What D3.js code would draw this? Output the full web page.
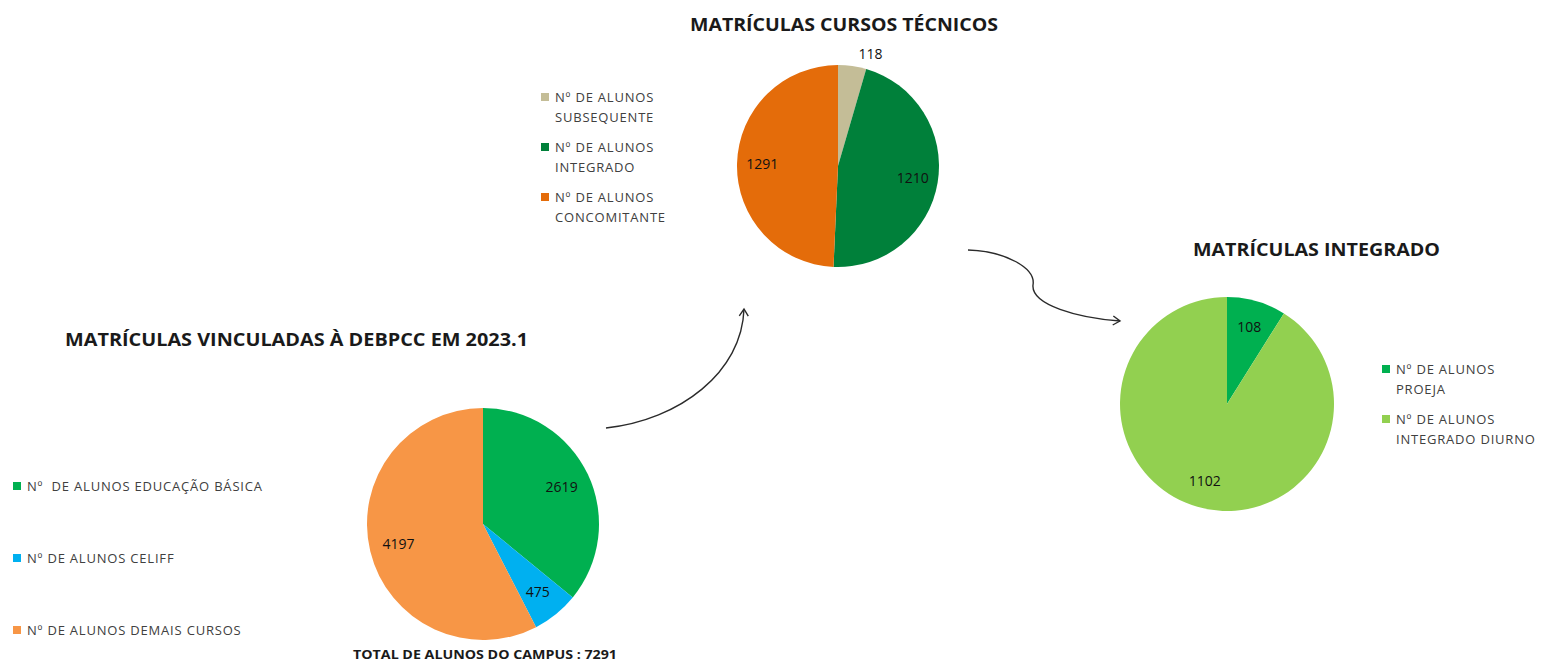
<!DOCTYPE html>
<html lang="pt-BR">
<head>
<meta charset="utf-8">
<script src="https://cdn.jsdelivr.net/npm/d3@7"></script>
<style>
  html, body { margin: 0; padding: 0; background: #ffffff; }
  svg { display: block; }
  text { font-family: "Open Sans", "Noto Sans", sans-serif; }
</style>
</head>
<body>
<svg id="chart" width="1548" height="662"></svg>
<script>
// Matrículas vinculadas à DEBPCC em 2023.1
const basicaCategories = ["Nº  DE ALUNOS EDUCAÇÃO BÁSICA", "Nº DE ALUNOS CELIFF", "Nº DE ALUNOS DEMAIS CURSOS"];
const basicaValues = [2619, 475, 4197];
const basicaColors = ["#00B050", "#00B0F0", "#F79646"];
const basicaTotal = "TOTAL DE ALUNOS DO CAMPUS : 7291";

// Matrículas cursos técnicos
const tecnicoCategories = [["Nº DE ALUNOS", "SUBSEQUENTE"], ["Nº DE ALUNOS", "INTEGRADO"], ["Nº DE ALUNOS", "CONCOMITANTE"]];
const tecnicoValues = [118, 1210, 1291];
const tecnicoColors = ["#C4BD97", "#00803A", "#E46C0A"];

// Matrículas integrado
const integradoCategories = [["Nº DE ALUNOS", "PROEJA"], ["Nº DE ALUNOS", "INTEGRADO DIURNO"]];
const integradoValues = [108, 1102];
const integradoColors = ["#00B050", "#92D050"];

const svg = d3.select("#chart");

const pie = d3.pie().sort(null).value(d => d);

function drawPie(values, colors, cx, cy, r) {
  const g = svg.append("g").attr("transform", `translate(${cx},${cy})`);
  const arc = d3.arc().innerRadius(0).outerRadius(r);
  const labelArc = d3.arc().innerRadius(r * 0.75).outerRadius(r * 0.75);
  const arcs = pie(values);
  g.selectAll("path.slice")
    .data(arcs)
    .join("path")
    .attr("class", "slice")
    .attr("d", arc)
    .attr("fill", (d, i) => colors[i]);
  g.selectAll("text.value")
    .data(arcs)
    .join("text")
    .attr("class", "value")
    .attr("transform", d => {
      // thin slices carry their label outside, next to the slice edge
      if (d.endAngle - d.startAngle < 0.4) {
        const a = d.endAngle, rr = r * 1.15;
        return `translate(${rr * Math.sin(a)},${-rr * Math.cos(a)})`;
      }
      return `translate(${labelArc.centroid(d)})`;
    })
    .attr("text-anchor", "middle")
    .attr("dy", "0.35em")
    .attr("font-size", 14)
    .attr("fill", "#111")
    .text(d => d.data);
  return g;
}

function title(text, x1, x2, baseline, size) {
  svg.append("text")
    .attr("x", (x1 + x2) / 2)
    .attr("y", baseline)
    .attr("text-anchor", "middle")
    .attr("font-size", size)
    .attr("font-weight", 700)
    .attr("fill", "#1a1a1a")
    .attr("textLength", x2 - x1)
    .attr("lengthAdjust", "spacingAndGlyphs")
    .text(text);
}

function legend(categories, colors, x, y0, rowStep, lineStep) {
  const g = svg.append("g");
  categories.forEach((cat, i) => {
    const lines = Array.isArray(cat) ? cat : [cat];
    const y = y0 + i * rowStep;
    g.append("rect")
      .attr("x", x)
      .attr("y", y - 4)
      .attr("width", 8)
      .attr("height", 8)
      .attr("fill", colors[i]);
    lines.forEach((ln, j) => {
      g.append("text")
        .attr("x", x + 14)
        .attr("y", y + j * lineStep)
        .attr("dy", "0.35em")
        .attr("font-size", 13)
        .attr("letter-spacing", 0.8)
        .attr("fill", "#404040")
        .attr("xml:space", "preserve")
        .style("white-space", "pre")
        .text(ln);
    });
  });
}

// Titles
title("MATRÍCULAS CURSOS TÉCNICOS", 690, 998, 31, 18);
title("MATRÍCULAS VINCULADAS À DEBPCC EM 2023.1", 65, 528, 346, 18);
title("MATRÍCULAS INTEGRADO", 1193, 1440, 256, 18);

// Pies
drawPie(basicaValues, basicaColors, 483, 524, 116);
drawPie(tecnicoValues, tecnicoColors, 838, 166, 101);
drawPie(integradoValues, integradoColors, 1227, 404, 107);

// Legends
legend(basicaCategories, basicaColors, 13, 486, 72, 0);
legend(tecnicoCategories, tecnicoColors, 541, 97, 50, 20);
legend(integradoCategories, integradoColors, 1382, 369, 50, 20);

// Campus total under the first pie
title(basicaTotal, 353, 617, 659, 13);

// Hand-drawn style connector arrows
const defs = svg.append("defs");
defs.append("marker")
  .attr("id", "chev")
  .attr("markerUnits", "userSpaceOnUse")
  .attr("viewBox", "-10 -6 12 12")
  .attr("refX", 0)
  .attr("refY", 0)
  .attr("markerWidth", 12)
  .attr("markerHeight", 12)
  .attr("orient", "auto")
  .append("path")
  .attr("d", "M-7,-4.5 L0,0 L-7,4.5")
  .attr("fill", "none")
  .attr("stroke", "#2b2b2b")
  .attr("stroke-width", 1.4);

const arrowPath1 = d3.path();
arrowPath1.moveTo(606, 428);
arrowPath1.bezierCurveTo(680, 420, 742, 372, 744, 309);

const arrowPath2 = d3.path();
arrowPath2.moveTo(968, 250);
arrowPath2.bezierCurveTo(1005, 251, 1036, 268, 1033, 285);
arrowPath2.bezierCurveTo(1031, 305, 1078, 318, 1120, 321);

[arrowPath1, arrowPath2].forEach(p => {
  svg.append("path")
    .attr("d", p.toString())
    .attr("fill", "none")
    .attr("stroke", "#2b2b2b")
    .attr("stroke-width", 1.4)
    .attr("marker-end", "url(#chev)");
});
</script>
</body>
</html>
